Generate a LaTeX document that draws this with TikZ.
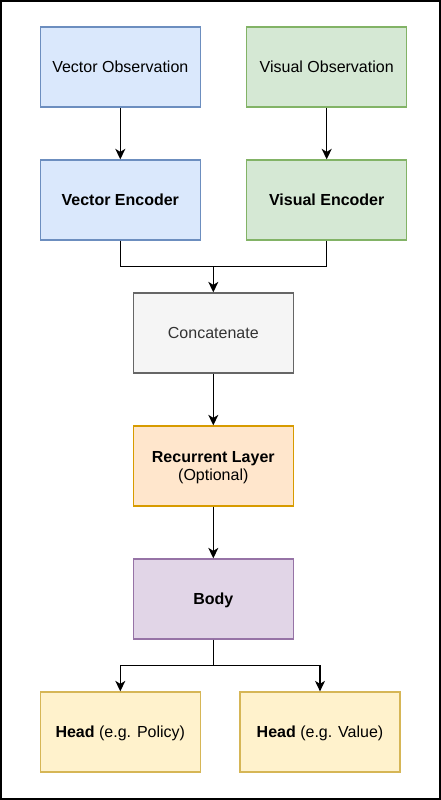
\documentclass[tikz,border=0pt]{standalone}
\usepackage{fontspec}
\setmainfont{Liberation Sans}
\usetikzlibrary{arrows.meta}
\definecolor{bluef}{HTML}{DAE8FC}\definecolor{blued}{HTML}{6C8EBF}
\definecolor{greenf}{HTML}{D5E8D4}\definecolor{greend}{HTML}{82B366}
\definecolor{grayf}{HTML}{F5F5F5}\definecolor{grayd}{HTML}{666666}\definecolor{grayt}{HTML}{333333}
\definecolor{orangef}{HTML}{FFE6CC}\definecolor{oranged}{HTML}{D79B00}
\definecolor{purplef}{HTML}{E1D5E7}\definecolor{purpled}{HTML}{9673A6}
\definecolor{yellowf}{HTML}{FFF2CC}\definecolor{yellowd}{HTML}{D6B656}
\begin{document}
\begin{tikzpicture}[x=1pt,y=-1pt,
  txt/.style={font=\fontsize{16}{18.3}\selectfont, text=black, inner sep=0pt, text height=12pt, text depth=2pt},
  box/.style={txt, draw, line width=1.3pt, minimum width=160pt, minimum height=80pt},
  bluebox/.style={box, fill=bluef, draw=blued},
  greenbox/.style={box, fill=greenf, draw=greend},
  graybox/.style={box, fill=grayf, draw=grayd, text=grayt},
  orangebox/.style={box, fill=orangef, draw=oranged},
  purplebox/.style={box, fill=purplef, draw=purpled},
  yellowbox/.style={box, fill=yellowf, draw=yellowd},
  line/.style={line width=1.3pt, black},
  conn/.style={line, -{Stealth[length=10.5pt,width=10pt,inset=3pt]}}]
\useasboundingbox (0,0) rectangle (441,800);
\draw[line width=2pt] (1,1) rectangle (440,799);
\node[bluebox] (vo) at (120.3,67) {Vector Observation};
\node[greenbox] (vso) at (326.7,67) {Visual Observation};
\node[bluebox] (ve) at (120.3,200) {\bfseries Vector Encoder};
\node[greenbox] (vse) at (326.7,200) {\bfseries Visual Encoder};
\node[graybox] (cat) at (213.3,333) {Concatenate};
\node[orangebox] (rec) at (213.3,466) {};
\node[txt] (rect1) at (213.3,457.2) {\bfseries Recurrent Layer};
\node[txt] (rect2) at (213.3,475.5) {(Optional)};
\node[purplebox] (body) at (213.3,599) {\bfseries Body};
\node[yellowbox] (hp) at (120.3,732) {\textbf{Head} (e.g. Policy)};
\node[yellowbox] (hv) at (320,732) {\textbf{Head} (e.g. Value)};
\coordinate (m1) at (213.3,266.7);
\coordinate (m2) at (213.3,665.7);
\draw[conn] (vo) -- (ve);
\draw[conn] (vso) -- (vse);
\draw[line] (ve.south) |- (m1);
\draw[line] (vse.south) |- (m1);
\draw[conn] (m1) -- (cat.north);
\draw[conn] (cat) -- (rec);
\draw[conn] (rec) -- (body);
\draw[line] (body.south) -- (m2);
\draw[conn] (m2) -| (hp.north);
\draw[conn] (m2) -| (hv.north);
\end{tikzpicture}
\end{document}
